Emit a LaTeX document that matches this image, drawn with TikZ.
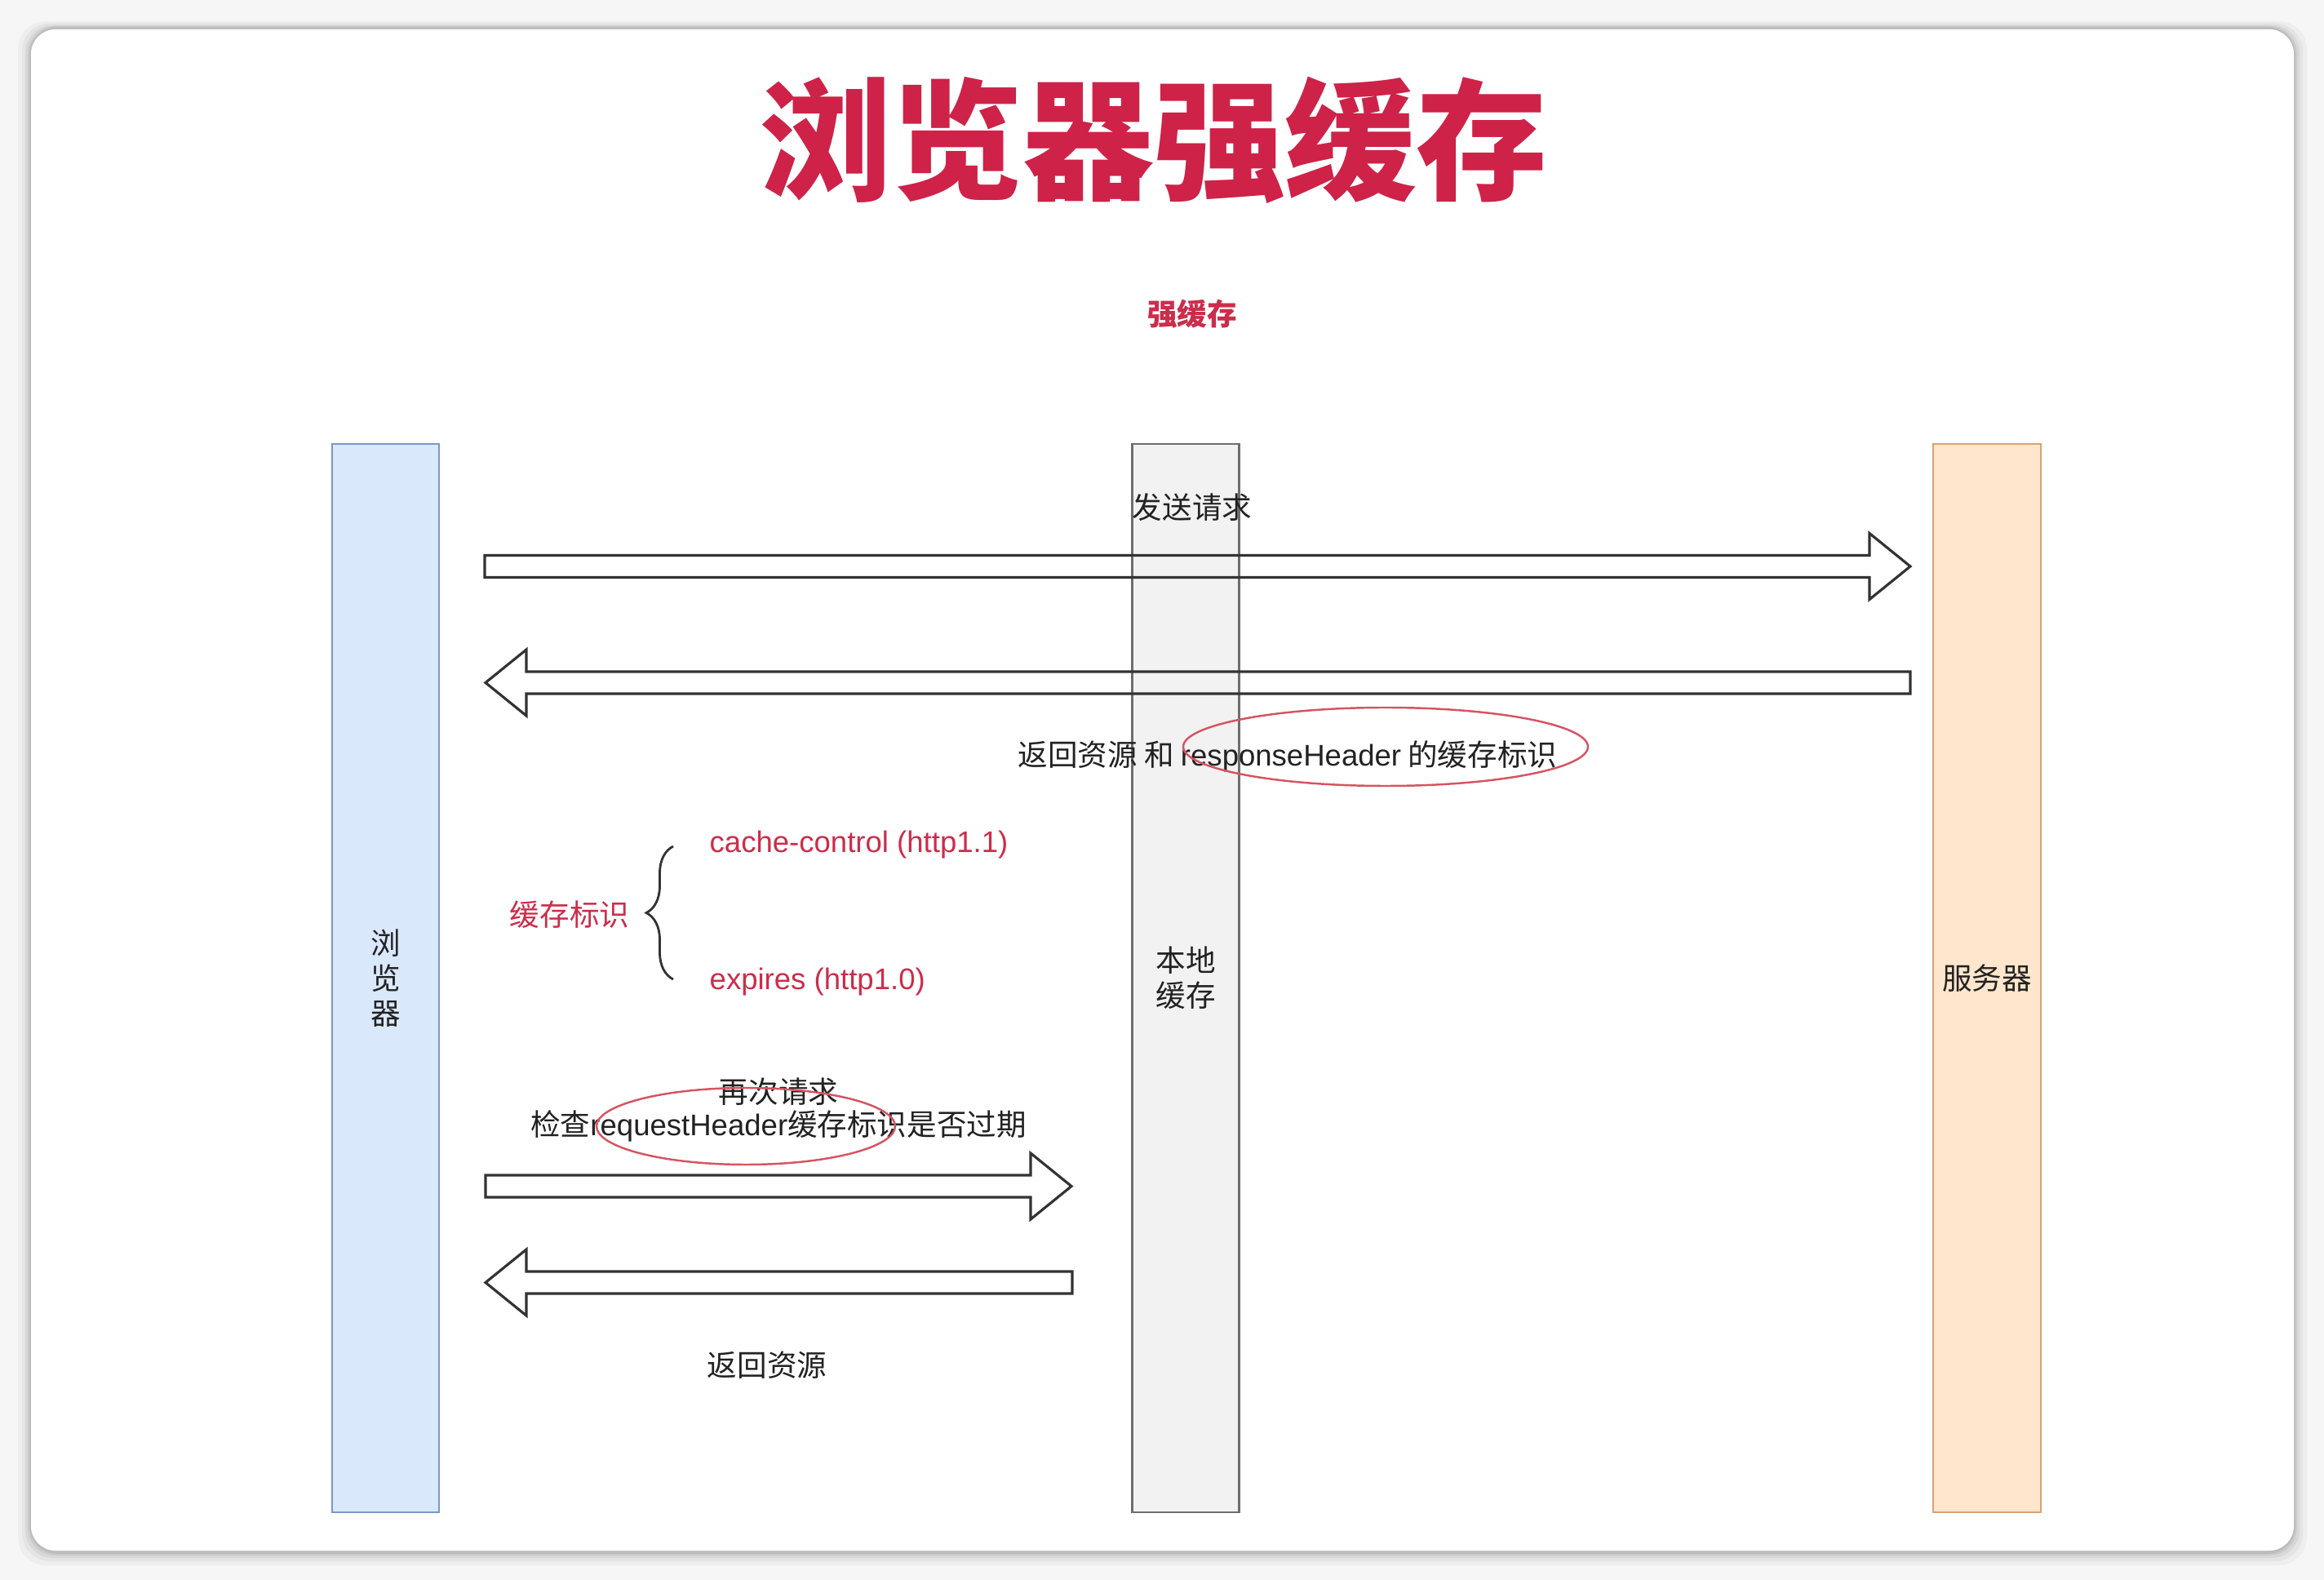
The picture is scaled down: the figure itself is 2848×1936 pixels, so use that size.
\documentclass[tikz,border=0pt]{standalone}
\usepackage{fontspec}
\setmainfont{Liberation Sans}
\newfontfamily\cjk{Noto Sans CJK SC}
\usetikzlibrary{shapes.geometric,decorations.pathreplacing,calc}
\definecolor{titlered}{RGB}{206,34,72}
\definecolor{labelred}{RGB}{204,45,75}
\definecolor{ringred}{RGB}{214,84,98}
\definecolor{ink}{RGB}{34,34,34}
\definecolor{arrowc}{RGB}{51,51,51}
\definecolor{bfill}{RGB}{218,232,252}
\definecolor{bdraw}{RGB}{122,152,196}
\definecolor{cfill}{RGB}{242,242,242}
\definecolor{cdraw}{RGB}{110,110,110}
\definecolor{sfill}{RGB}{255,230,204}
\definecolor{sdraw}{RGB}{214,164,120}
\definecolor{pagebg}{RGB}{246,246,246}
\newcommand{\zhs}[1]{{\cjk #1}}
\newcommand{\lblfont}{\fontsize{10.4pt}{12.2pt}\selectfont}
\begin{document}
\begin{tikzpicture}[x=0.1mm,y=-0.1mm,
  lane/.style={draw, line width=0.8pt, minimum width=13.1mm, minimum height=130.9mm,
    inner sep=0pt, align=center, font=\lblfont\cjk, text=ink},
  label/.style={inner sep=0pt, font=\lblfont, text=ink},
  redlabel/.style={inner sep=0pt, font=\lblfont, text=labelred},
  ring/.style={ellipse, draw=ringred, line width=0.7pt, inner sep=0pt},
  blockarrow/.style={draw=arrowc, line width=0.9pt, line join=miter,
    to path={let \p1=(\tikztostart), \p2=(\tikztotarget), \n1={sign(\x2-\x1)} in
      (\x1,{\y1+1.35mm}) -- ({\x2-\n1*5mm},{\y1+1.35mm}) -- ({\x2-\n1*5mm},{\y1+4.05mm})
      -- (\x2,\y2) -- ({\x2-\n1*5mm},{\y1-4.05mm}) -- ({\x2-\n1*5mm},{\y1-1.35mm})
      -- (\x1,{\y1-1.35mm}) -- cycle}},
  bracket/.style={draw=arrowc, line width=0.8pt, decorate, decoration={brace, amplitude=3.3mm}}
]
\useasboundingbox (0,0) rectangle (2848,1936);
% page and card
\fill[pagebg] (0,0) rectangle (2848,1936);
\foreach \s/\o in {16/0.03,11/0.04,7/0.05,4/0.06,2/0.07}
  \fill[black, opacity=\o, rounded corners=3.4mm] ({38-\s},{34-\s*0.5}) rectangle ({2811+\s},{1902+\s});
\fill[white, rounded corners=3mm] (38,36) rectangle (2811,1900);

% title
\node[inner sep=0pt, text=titlered, font=\fontsize{45.8pt}{50pt}\selectfont\cjk\bfseries] (title) at (1414,172) {浏览器强缓存};
\node[redlabel, font=\lblfont\cjk\bfseries] (sub) at (1461,385) {强缓存};

% lanes
\node[lane, fill=bfill, draw=bdraw] (browser) at (472.5,1198.5) {浏\\览\\器};
\node[lane, fill=cfill, draw=cdraw] (cache) at (1453,1198.5) {本地\\缓存};
\node[lane, fill=sfill, draw=sdraw, minimum width=13.2mm] (server) at (2435,1198.5) {服务器};

% arrow end points
\coordinate (a1s) at (594,694);
\coordinate (a1e) at (2341,694);
\coordinate (a2s) at (2341,836.5);
\coordinate (a2e) at (595,836.5);
\coordinate (a3s) at (595,1453.5);
\coordinate (a3e) at (1313,1453.5);
\coordinate (a4s) at (1314,1571.5);
\coordinate (a4e) at (595,1571.5);

\draw[blockarrow] (a1s) to (a1e);
\draw[blockarrow] (a2s) to (a2e);
\draw[blockarrow] (a3s) to (a3e);
\draw[blockarrow] (a4s) to (a4e);

% labels
\node[label, font=\lblfont\cjk] (send) at (1461,622) {发送请求};
\node[label] (resp) at (1578,927) {\zhs{返回资源 和 }responseHeader\zhs{ 的缓存标识}};
\node[redlabel, font=\lblfont\cjk] (flag) at (698,1121) {缓存标识};
\node[redlabel, anchor=west] (cc) at (869,1035) {cache-control (http1.1)};
\node[redlabel, anchor=west] (exp) at (869,1203) {expires (http1.0)};
\node[label, align=center, font=\fontsize{10.4pt}{11.4pt}\selectfont] (again) at (954,1360)
  {\zhs{再次请求}\\\zhs{检查}requestHeader\zhs{缓存标识是否过期}};
\node[label, font=\lblfont\cjk] (ret) at (940,1673) {返回资源};

% brace
\coordinate (brb) at (825,1200);
\coordinate (brt) at (825,1037);
\draw[bracket] (brb) -- (brt);

% highlight rings
\node[ring, minimum width=49.6mm, minimum height=9.6mm] (ring1) at (1698,915) {};
\node[ring, minimum width=36.6mm, minimum height=9.4mm] (ring2) at (914,1380) {};
\end{tikzpicture}
\end{document}
